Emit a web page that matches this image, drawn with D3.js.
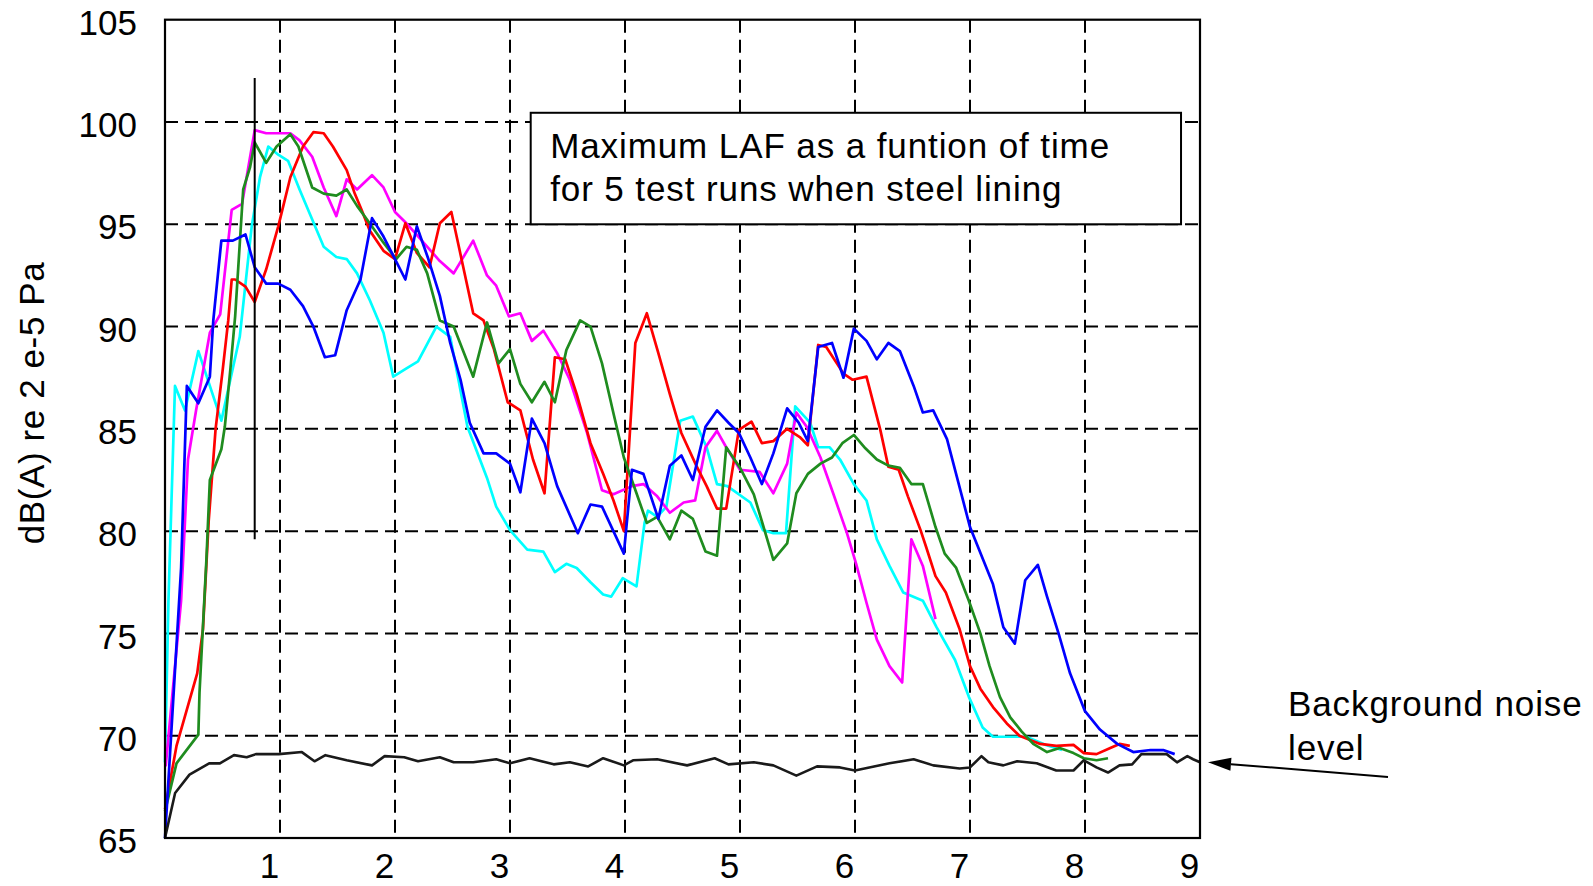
<!DOCTYPE html>
<html>
<head>
<meta charset="utf-8">
<script src="https://cdn.jsdelivr.net/npm/d3@7"></script>
<style>
  html, body { margin: 0; padding: 0; background: #fff; }
  svg { display: block; font-family: "Liberation Sans", Arial, Helvetica, sans-serif; }
</style>
</head>
<body>
<svg id="chart" width="1593" height="886"></svg>
<script>
// ---- axis ticks ----
const timeTicks = [1, 2, 3, 4, 5, 6, 7, 8, 9];
const levelTicks = [65, 70, 75, 80, 85, 90, 95, 100, 105];
const gridTimes = [1, 2, 3, 4, 5, 6, 7, 8];
const gridLevels = [70, 75, 80, 85, 90, 95, 100];

// ---- measured runs: [time s, dB(A)] ----
const runCyan = [[0,68.7],[0.03,76.6],[0.087,87.1],[0.174,85.9],[0.29,88.8],[0.39,87.1],[0.49,85.4],[0.65,89.5],[0.754,94.9],[0.826,97.3],[0.898,98.8],[0.985,98.4],[1.07,98.1],[1.17,96.7],[1.26,95.5],[1.38,93.9],[1.49,93.4],[1.58,93.3],[1.67,92.6],[1.78,91.3],[1.90,89.7],[1.985,87.55],[2.10,87.96],[2.20,88.3],[2.36,90.0],[2.48,89.5],[2.63,85.1],[2.80,82.6],[2.88,81.2],[3.0,80.05],[3.15,79.1],[3.29,79.0],[3.39,78.0],[3.49,78.4],[3.58,78.2],[3.70,77.5],[3.81,76.9],[3.88,76.8],[3.98,77.7],[4.10,77.3],[4.17,80.4],[4.20,81.0],[4.28,80.7],[4.36,81.2],[4.48,85.4],[4.59,85.6],[4.71,84.1],[4.80,82.3],[4.89,82.2],[5.09,81.4],[5.20,80.05],[5.29,79.9],[5.40,79.9],[5.48,86.1],[5.61,85.3],[5.68,84.1],[5.78,84.1],[5.87,83.5],[5.99,82.3],[6.10,81.5],[6.19,79.6],[6.30,78.3],[6.42,77.0],[6.59,76.6],[6.71,75.3],[6.87,73.7],[6.99,71.9],[7.11,70.4],[7.20,69.95],[7.35,69.95],[7.49,69.95],[7.66,69.55],[7.80,69.3]];

const runMagenta = [[0.006,68.5],[0.14,76.6],[0.20,83.5],[0.27,85.9],[0.39,89.7],[0.48,90.6],[0.58,95.7],[0.67,96.0],[0.78,99.6],[0.88,99.45],[1.09,99.45],[1.17,99.1],[1.28,98.3],[1.38,96.8],[1.49,95.4],[1.58,97.2],[1.67,96.7],[1.80,97.4],[1.90,96.8],[2.0,95.6],[2.09,95.1],[2.17,94.6],[2.39,93.2],[2.51,92.6],[2.68,94.2],[2.80,92.5],[2.88,92.0],[2.99,90.5],[3.09,90.65],[3.19,89.3],[3.29,89.8],[3.41,88.7],[3.52,87.4],[3.67,84.8],[3.80,82.0],[3.90,81.8],[4.06,82.2],[4.16,82.3],[4.28,81.7],[4.39,80.9],[4.51,81.4],[4.61,81.5],[4.70,84.1],[4.80,84.9],[4.88,84.1],[5.0,83.0],[5.17,82.9],[5.29,81.85],[5.41,83.3],[5.49,85.8],[5.58,85.1],[5.70,83.6],[5.81,81.85],[5.93,79.9],[6.01,78.4],[6.10,76.5],[6.19,74.7],[6.30,73.4],[6.41,72.6],[6.49,79.6],[6.59,78.3],[6.70,75.7]];

const runRed = [[0,66.4],[0.10,69.5],[0.28,73.05],[0.33,75.2],[0.38,80.5],[0.44,85.0],[0.50,87.8],[0.55,90.3],[0.58,92.3],[0.61,92.3],[0.70,91.95],[0.78,91.2],[0.88,92.8],[0.985,94.9],[1.09,97.3],[1.20,98.8],[1.29,99.5],[1.38,99.45],[1.46,98.8],[1.58,97.65],[1.65,96.5],[1.71,95.7],[1.78,94.7],[1.90,93.7],[2.0,93.3],[2.09,95.05],[2.19,93.6],[2.30,92.9],[2.39,95.05],[2.49,95.6],[2.59,93.0],[2.68,90.65],[2.77,90.3],[2.86,88.9],[2.98,86.3],[3.09,85.9],[3.20,83.5],[3.30,81.85],[3.39,88.5],[3.48,88.4],[3.58,86.7],[3.70,84.3],[3.81,82.8],[3.90,81.5],[3.99,80.0],[4.09,89.2],[4.19,90.65],[4.29,88.7],[4.39,86.7],[4.49,84.8],[4.62,83.2],[4.71,82.2],[4.80,81.1],[4.88,81.1],[4.99,84.95],[5.10,85.35],[5.19,84.3],[5.29,84.4],[5.41,85.0],[5.52,84.6],[5.59,84.2],[5.68,89.1],[5.75,89.0],[5.90,87.7],[5.98,87.4],[6.10,87.55],[6.22,84.95],[6.29,83.15],[6.38,83.0],[6.46,81.7],[6.57,80.05],[6.62,79.2],[6.70,77.8],[6.79,77.0],[6.91,75.2],[7.0,73.4],[7.09,72.3],[7.20,71.4],[7.32,70.6],[7.43,70.0],[7.61,69.6],[7.75,69.5],[7.90,69.55],[7.99,69.15],[8.10,69.1],[8.22,69.4],[8.30,69.6],[8.39,69.5]];

const runGreen = [[0,66.3],[0.10,68.65],[0.29,70.05],[0.30,72.1],[0.36,78.6],[0.39,82.5],[0.49,84.0],[0.52,85.1],[0.57,88.0],[0.61,90.5],[0.68,96.7],[0.74,97.8],[0.78,99.0],[0.88,98.0],[0.97,98.8],[1.09,99.4],[1.16,98.8],[1.28,96.8],[1.38,96.5],[1.49,96.4],[1.58,96.7],[1.67,95.9],[1.78,95.05],[1.90,94.1],[2.01,93.3],[2.10,93.9],[2.19,93.75],[2.28,92.6],[2.39,90.3],[2.51,90.0],[2.68,87.55],[2.80,90.2],[2.90,88.2],[3.0,88.9],[3.09,87.2],[3.19,86.3],[3.30,87.3],[3.39,86.3],[3.49,88.85],[3.61,90.3],[3.70,90.0],[3.80,88.2],[3.90,85.75],[3.99,83.6],[4.10,81.85],[4.19,80.4],[4.28,80.7],[4.39,79.6],[4.49,81.0],[4.59,80.6],[4.70,79.0],[4.80,78.8],[4.88,84.1],[5.0,83.1],[5.12,81.8],[5.29,78.6],[5.41,79.4],[5.49,81.85],[5.59,82.8],[5.70,83.3],[5.80,83.6],[5.89,84.3],[5.99,84.7],[6.09,84.05],[6.19,83.5],[6.29,83.2],[6.39,83.1],[6.49,82.3],[6.59,82.3],[6.70,80.2],[6.78,78.9],[6.88,78.2],[6.99,76.6],[7.09,75.0],[7.17,73.4],[7.26,71.9],[7.35,70.9],[7.45,70.2],[7.55,69.6],[7.67,69.2],[7.78,69.4],[7.90,69.15],[7.99,68.9],[8.10,68.8],[8.20,68.9]];

const runBlue = [[0,65],[0.14,78.2],[0.19,87.1],[0.29,86.25],[0.39,87.55],[0.42,90.3],[0.49,94.2],[0.59,94.2],[0.70,94.5],[0.78,92.9],[0.88,92.1],[0.985,92.1],[1.09,91.8],[1.20,91.0],[1.29,90.0],[1.39,88.5],[1.48,88.6],[1.58,90.8],[1.70,92.3],[1.80,95.3],[1.90,94.4],[2.0,93.3],[2.09,92.3],[2.19,94.9],[2.29,93.3],[2.39,91.5],[2.48,89.2],[2.57,87.4],[2.65,85.3],[2.77,83.8],[2.88,83.8],[3.0,83.3],[3.09,81.9],[3.19,85.5],[3.30,84.3],[3.41,82.2],[3.59,79.9],[3.70,81.3],[3.80,81.2],[3.99,78.9],[4.06,83.0],[4.16,82.8],[4.29,80.6],[4.39,83.2],[4.49,83.7],[4.59,82.5],[4.70,85.1],[4.80,85.9],[4.90,85.3],[4.99,84.8],[5.09,83.6],[5.19,82.3],[5.29,83.8],[5.41,86.0],[5.51,85.3],[5.59,84.4],[5.68,89.0],[5.80,89.2],[5.90,87.5],[5.99,89.9],[6.10,89.3],[6.19,88.4],[6.29,89.2],[6.39,88.8],[6.51,87.1],[6.59,85.8],[6.68,85.9],[6.80,84.5],[7.0,80.2],[7.20,77.4],[7.29,75.3],[7.39,74.5],[7.48,77.6],[7.59,78.35],[7.67,76.8],[7.77,75.0],[7.87,73.05],[8.0,71.2],[8.13,70.3],[8.28,69.6],[8.42,69.2],[8.57,69.3],[8.68,69.3],[8.78,69.1]];

const background = [[0,65],[0.088,67.2],[0.213,68.1],[0.384,68.65],[0.477,68.65],[0.60,69.05],[0.71,68.95],[0.79,69.1],[0.99,69.1],[1.19,69.2],[1.30,68.75],[1.395,69.05],[1.58,68.8],[1.80,68.55],[1.91,69.0],[2.08,68.95],[2.20,68.75],[2.39,68.95],[2.51,68.7],[2.68,68.7],[2.88,68.85],[3.0,68.65],[3.17,68.9],[3.38,68.6],[3.52,68.7],[3.68,68.5],[3.81,68.9],[3.99,68.55],[4.07,68.8],[4.28,68.85],[4.54,68.55],[4.78,68.9],[4.90,68.6],[5.12,68.7],[5.29,68.55],[5.49,68.05],[5.67,68.5],[5.87,68.45],[6.0,68.3],[6.30,68.65],[6.51,68.85],[6.68,68.55],[6.91,68.4],[7.0,68.45],[7.10,69.0],[7.16,68.7],[7.29,68.55],[7.41,68.75],[7.58,68.65],[7.75,68.3],[7.90,68.3],[7.99,68.8],[8.10,68.45],[8.20,68.2],[8.30,68.55],[8.41,68.6],[8.49,69.1],[8.71,69.1],[8.80,68.7],[8.89,69.0],[8.94,68.85],[9.0,68.7]];

// time marker (vertical bar) and note box, in data units
const markerTime = 0.78;
const markerRange = [79.6, 102.15];
const noteBox = { t0: 3.18, t1: 8.835, db0: 95.0, db1: 100.45 };
const noteLines = ["Maximum LAF as a funtion of time", "for 5 test runs when steel lining"];
const bgLabelLines = ["Background noise", "level"];
const yTitle = "dB(A) re 2 e-5 Pa";

const runs = [
  { data: runCyan,    color: "#00ffff" },
  { data: runMagenta, color: "#ff00ff" },
  { data: runRed,     color: "#ff0000" },
  { data: runGreen,   color: "#1f8c1f" },
  { data: runBlue,    color: "#0000ff" }
];

// ---- layout ----
const svg = d3.select("#chart");
const x = d3.scaleLinear().domain([0, 9]).range([165, 1200]);
const y = d3.scaleLinear().domain([65, 105]).range([838, 19.7]);
const fontSize = 35;

svg.append("rect").attr("width", 1593).attr("height", 886).attr("fill", "#fff");

// dashed grid
const grid = svg.append("g").attr("stroke", "#000").attr("stroke-width", 2).attr("stroke-dasharray", "13,7");
grid.selectAll("line.v").data(gridTimes).join("line")
  .attr("x1", d => x(d)).attr("x2", d => x(d))
  .attr("y1", y(105)).attr("y2", y(65));
grid.selectAll("line.h").data(gridLevels).join("line")
  .attr("x1", x(0)).attr("x2", x(9))
  .attr("y1", d => y(d)).attr("y2", d => y(d));

// series
const line = d3.line().x(d => x(d[0])).y(d => y(d[1]));
svg.append("g").selectAll("path").data(runs).join("path")
  .attr("d", d => line(d.data))
  .attr("fill", "none")
  .attr("stroke", d => d.color)
  .attr("stroke-width", 2.7)
  .attr("stroke-linejoin", "round");

svg.append("path")
  .attr("d", line(background))
  .attr("fill", "none")
  .attr("stroke", "#1a1a1a")
  .attr("stroke-width", 2.6)
  .attr("stroke-linejoin", "round");

// vertical time marker
svg.append("line")
  .attr("x1", x(markerTime)).attr("x2", x(markerTime))
  .attr("y1", y(markerRange[1])).attr("y2", y(markerRange[0]))
  .attr("stroke", "#000").attr("stroke-width", 2);

// frame
svg.append("rect")
  .attr("x", x(0)).attr("y", y(105))
  .attr("width", x(9) - x(0)).attr("height", y(65) - y(105))
  .attr("fill", "none").attr("stroke", "#000").attr("stroke-width", 2.2);

// axes labels
const xAxis = svg.append("g").attr("transform", `translate(0,${y(65)})`)
  .call(d3.axisBottom(x).tickValues(timeTicks).tickSize(0).tickPadding(15).tickFormat(d3.format("d")));
xAxis.select(".domain").remove();
xAxis.selectAll("text").attr("font-size", fontSize).attr("fill", "#000")
  .attr("font-family", "Liberation Sans, Arial, sans-serif").attr("dx", -11);

const yAxis = svg.append("g").attr("transform", `translate(${x(0)},0)`)
  .call(d3.axisLeft(y).tickValues(levelTicks).tickSize(0).tickPadding(28).tickFormat(d3.format("d")));
yAxis.select(".domain").remove();
yAxis.selectAll("text").attr("font-size", fontSize).attr("fill", "#000")
  .attr("font-family", "Liberation Sans, Arial, sans-serif").attr("dy", "0.42em");

// y title
svg.append("text")
  .attr("transform", `translate(44,403) rotate(-90)`)
  .attr("text-anchor", "middle")
  .attr("font-size", fontSize)
  .attr("letter-spacing", 0.6)
  .text(yTitle);

// note box
const bx0 = x(noteBox.t0), bx1 = x(noteBox.t1), by0 = y(noteBox.db1), by1 = y(noteBox.db0);
svg.append("rect")
  .attr("x", bx0).attr("y", by0).attr("width", bx1 - bx0).attr("height", by1 - by0)
  .attr("fill", "#fff").attr("stroke", "#000").attr("stroke-width", 2);
svg.append("g").selectAll("text").data(noteLines).join("text")
  .attr("x", bx0 + 19.5)
  .attr("y", (d, i) => by0 + 45 + i * 43.5)
  .attr("font-size", fontSize)
  .attr("letter-spacing", 0.9)
  .text(d => d);

// background noise callout
const tip = [x(9) + 8, y(background[background.length - 1][1])];
const tail = [1388, 777];
const ang = Math.atan2(tail[1] - tip[1], tail[0] - tip[0]);
const headLen = 23, headHalf = 6.5;
const hb = [tip[0] + headLen * Math.cos(ang), tip[1] + headLen * Math.sin(ang)];
const nx = -Math.sin(ang), ny = Math.cos(ang);
svg.append("line")
  .attr("x1", hb[0]).attr("y1", hb[1]).attr("x2", tail[0]).attr("y2", tail[1])
  .attr("stroke", "#000").attr("stroke-width", 2);
svg.append("path")
  .attr("d", `M${tip[0]},${tip[1]}L${hb[0] + nx * headHalf},${hb[1] + ny * headHalf}L${hb[0] - nx * headHalf},${hb[1] - ny * headHalf}Z`)
  .attr("fill", "#000");
svg.append("g").selectAll("text").data(bgLabelLines).join("text")
  .attr("x", 1288)
  .attr("y", (d, i) => 716 + i * 44)
  .attr("font-size", fontSize)
  .attr("letter-spacing", 0.9)
  .text(d => d);
</script>
</body>
</html>
